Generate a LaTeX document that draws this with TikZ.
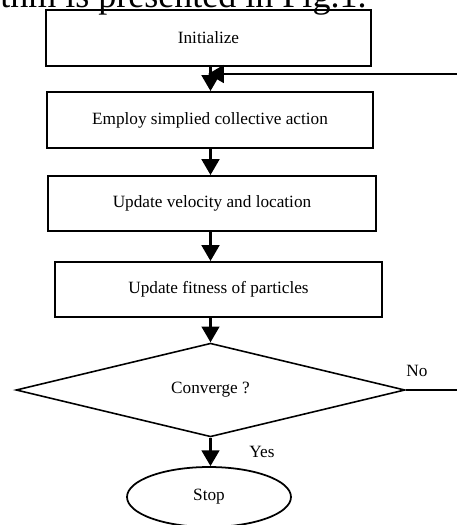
\documentclass[tikz,border=0pt]{standalone}
\usepackage{fontspec}
\setmainfont{Liberation Serif}
\usetikzlibrary{shapes.geometric,arrows.meta}
\tikzset{
  procbox/.style={draw, line width=1.1pt, inner sep=0pt, font=\fontsize{9.8}{11}\selectfont},
  flowarrow/.style={line width=1.6pt, -{Triangle[length=9pt,width=10pt]}},
  flowlabel/.style={inner sep=0pt, font=\fontsize{9.8}{11}\selectfont}
}
\begin{document}
\begin{tikzpicture}[x=0.02cm,y=-0.02cm]
\useasboundingbox (0,0) rectangle (457,525);
\clip (0,0) rectangle (457,525);

% Cut-off line of the running text above
\node[anchor=base west,inner sep=0pt,font=\fontsize{20.5}{24}\selectfont] (runtext) at (0,7) {thm is presented in Fig.1.};

% Process boxes
\node[procbox,minimum width=6.5cm,minimum height=1.12cm] (init) at (208.5,38) {Initialize};
\node[procbox,minimum width=6.52cm,minimum height=1.12cm] (employ) at (210,120) {Employ simplied collective action};
\node[procbox,minimum width=6.56cm,minimum height=1.1cm] (update) at (212,203.5) {Update velocity and location};
\node[procbox,minimum width=6.54cm,minimum height=1.1cm] (fitness) at (218.5,289.5) {Update fitness of particles};

% Decision and end
\node[draw,diamond,line width=0.9pt,inner sep=0pt,minimum width=7.78cm,minimum height=1.8cm,
  font=\fontsize{9.8}{11}\selectfont] (conv) at (210.5,390) {Converge ?};
\node[draw,ellipse,line width=1pt,inner sep=0pt,minimum width=3.28cm,minimum height=1.2cm,
  font=\fontsize{9.8}{11}\selectfont] (stop) at (209,497) {Stop};

% Main flow
\draw[flowarrow] (init.south -| conv.north) -- (employ.north -| conv.north);
\draw[flowarrow] (employ.south -| conv.north) -- (update.north -| conv.north);
\draw[flowarrow] (update.south -| conv.north) -- (fitness.north -| conv.north);
\draw[flowarrow] (fitness.south -| conv.north) -- (conv.north);
\draw[flowarrow] (conv.south) -- (stop.north -| conv.south);

% Loop back (runs off the page)
\coordinate (noend) at (462,390);
\coordinate (loopin) at (462,74);
\coordinate (join) at (208,74);
\draw[line width=1.1pt] (conv.east) -- (noend);
\draw[flowarrow] (loopin) -- (join);

% Branch labels
\node[flowlabel] (nolab) at (417,371) {No};
\node[flowlabel] (yeslab) at (262,452) {Yes};
\end{tikzpicture}
\end{document}
